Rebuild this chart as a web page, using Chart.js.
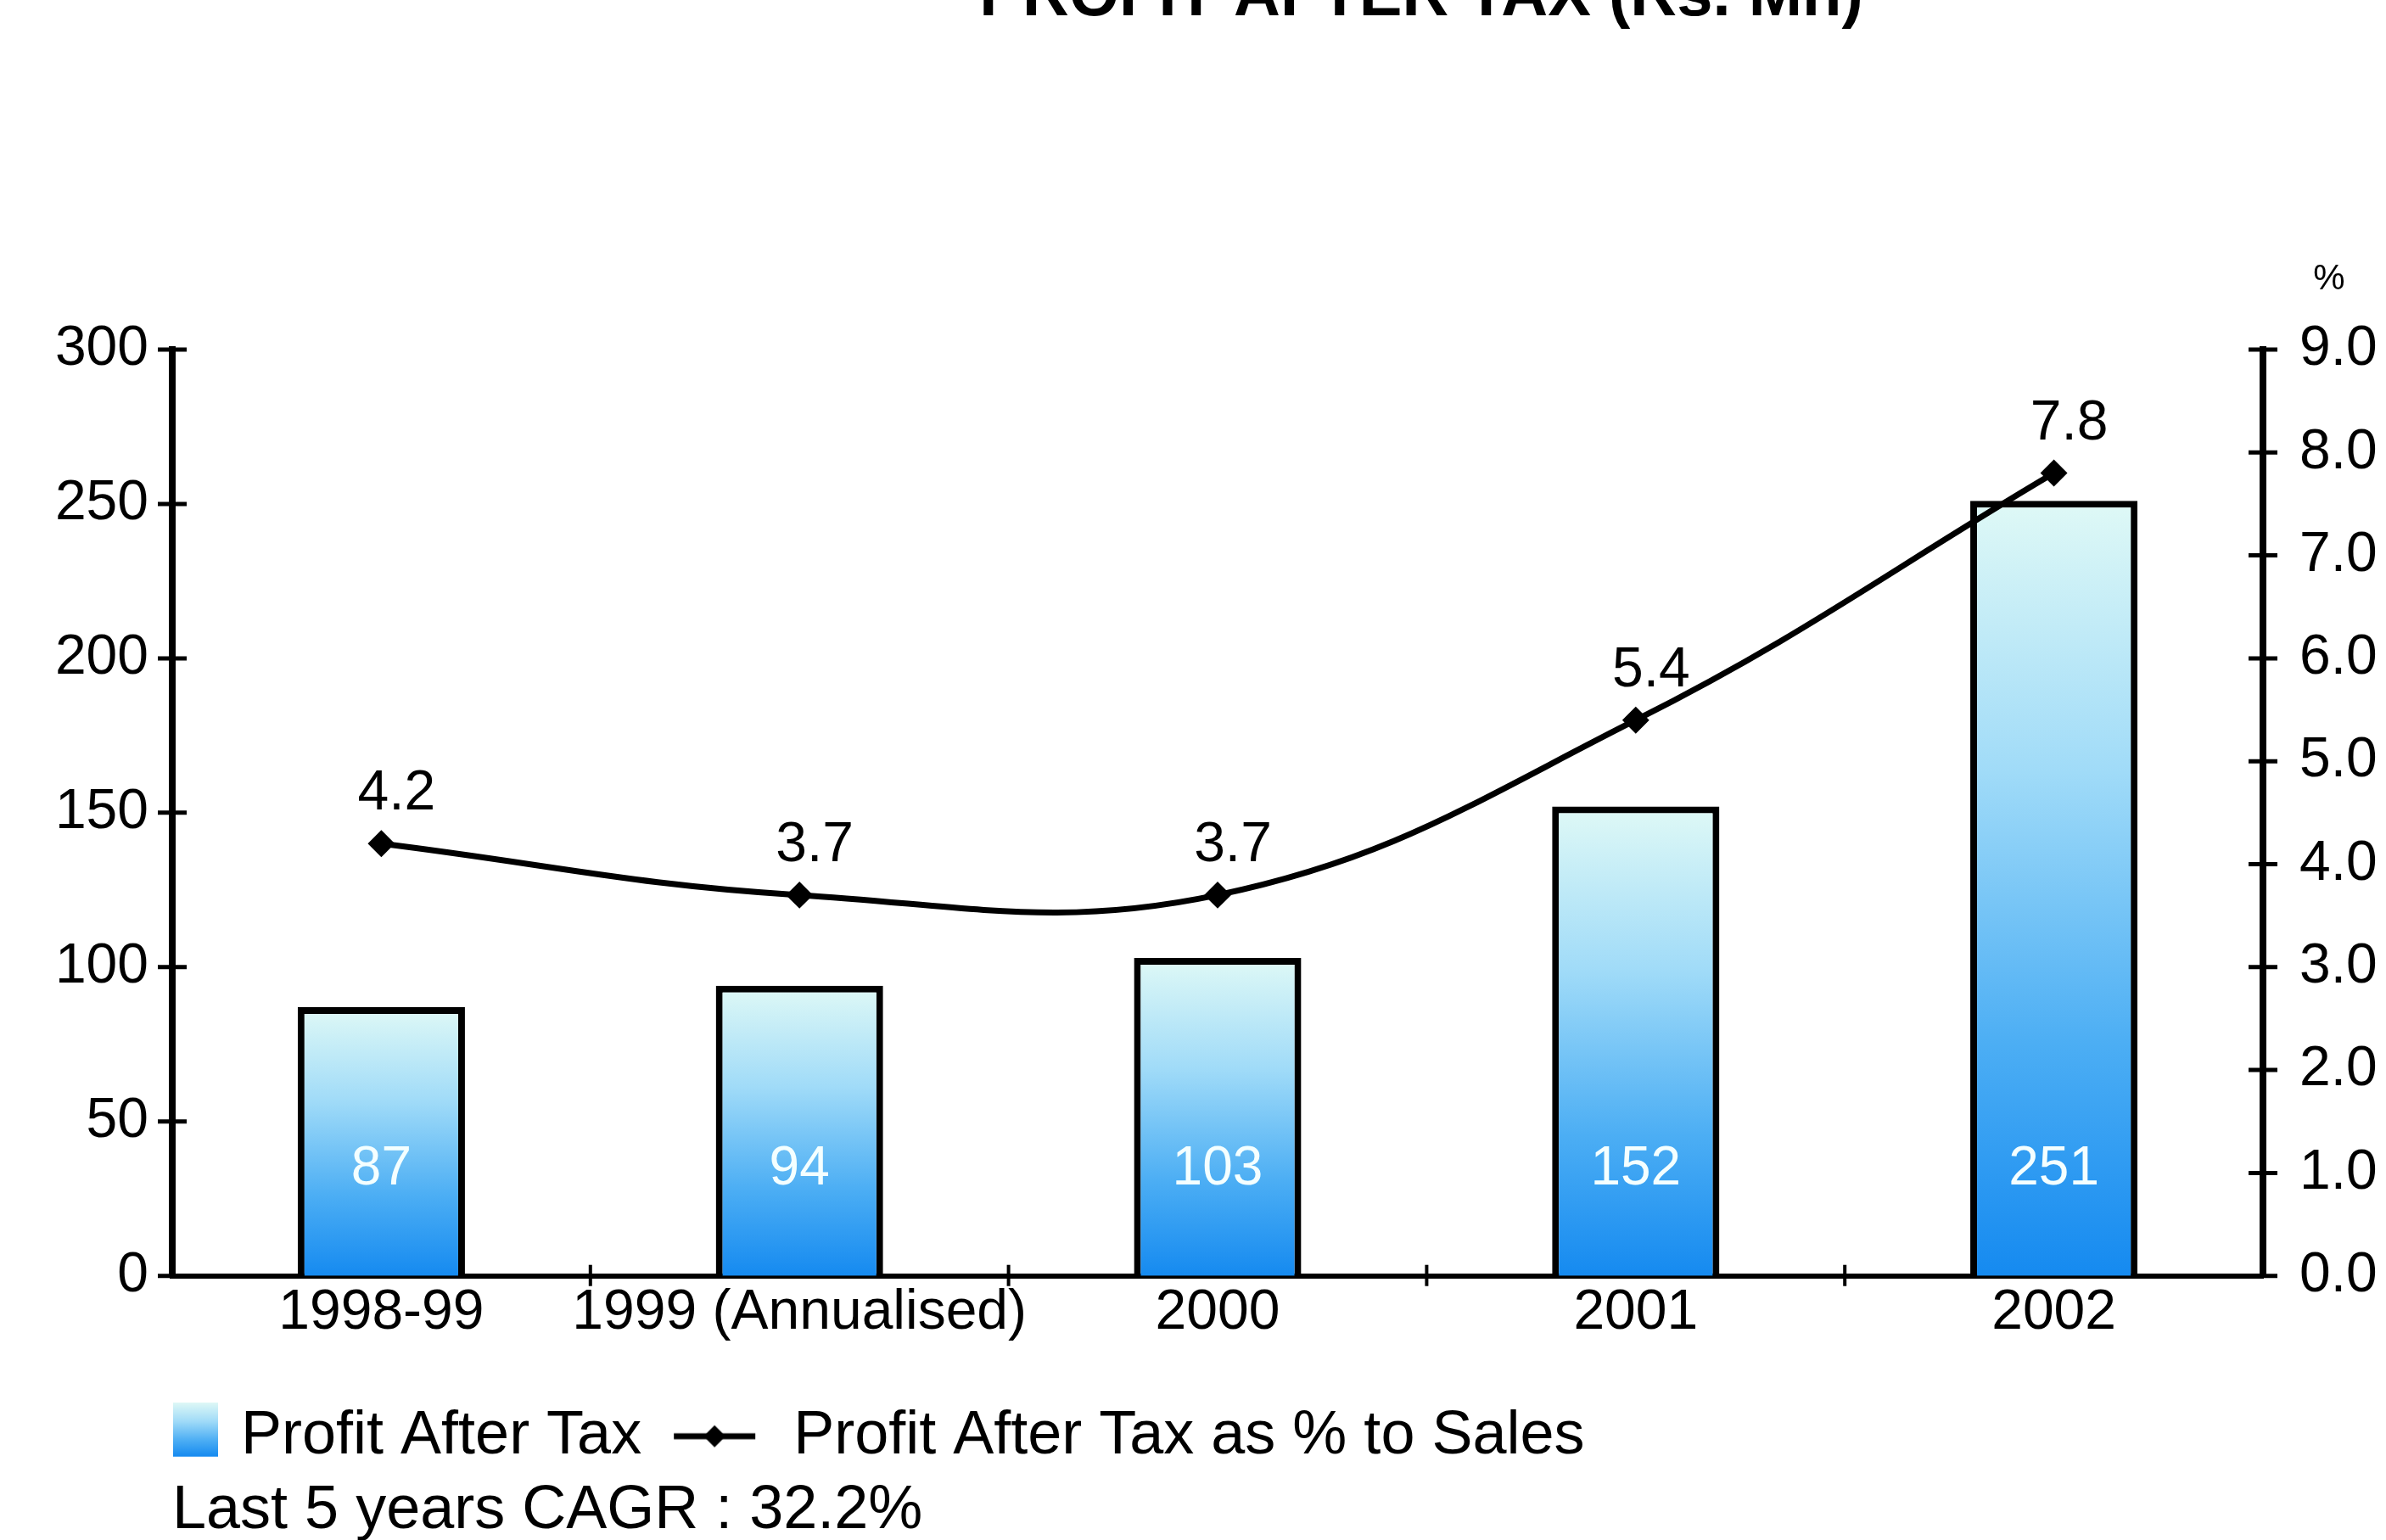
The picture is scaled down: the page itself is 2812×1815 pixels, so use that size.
<!DOCTYPE html>
<html><head><meta charset="utf-8">
<script src="https://cdn.jsdelivr.net/npm/chart.js@4.4.1/dist/chart.umd.min.js"></script>
<style>html,body{margin:0;padding:0;background:#fff;overflow:hidden}#wrap{width:2812px;height:1815px;position:relative}</style>
</head><body><div id="wrap"><canvas id="c" width="2812" height="1815"></canvas></div>
<script>
// ---------- data ----------
const titleText = 'PROFIT AFTER TAX (Rs. Mn)';
const categories = ['1998-99', '1999 (Annualised)', '2000', '2001', '2002'];
const profitAfterTax = [87, 94, 103, 152, 251];
const patPercentOfSales = [4.2, 3.7, 3.7, 5.4, 7.8];
const leftTickValues = [0, 50, 100, 150, 200, 250, 300];
const rightTickValues = [0, 1, 2, 3, 4, 5, 6, 7, 8, 9];
const seriesNames = ['Profit After Tax', 'Profit After Tax as % to Sales'];
const footnote = 'Last 5 years CAGR : 32.2%';
const rightAxisUnit = '%';

// ---------- fonts ----------
const REG = "'Liberation Sans', Arial, Helvetica, sans-serif";
Chart.defaults.font.family = REG;
Chart.defaults.color = '#000';

// ---------- styles ----------
function barGradient(ctx, top, bottom) {
  const g = ctx.createLinearGradient(0, top, 0, bottom);
  g.addColorStop(0, '#dff9f6');
  g.addColorStop(0.35, '#a0dbf8');
  g.addColorStop(0.7, '#4caef4');
  g.addColorStop(1, '#158af0');
  return g;
}
// legend images
const legendBar = document.createElement('canvas');
legendBar.width = 132; legendBar.height = 80;
(function () {
  const c = legendBar.getContext('2d');
  c.fillStyle = barGradient(c, 0, 64);
  c.fillRect(79, 0, 53, 64);
})();
const legendLine = document.createElement('canvas');
legendLine.width = 102; legendLine.height = 28;
(function () {
  const c = legendLine.getContext('2d');
  c.strokeStyle = '#000'; c.lineWidth = 7;
  c.beginPath(); c.moveTo(3, 14); c.lineTo(99, 14); c.stroke();
  c.fillStyle = '#000';
  c.beginPath(); c.moveTo(51, 1); c.lineTo(64, 14); c.lineTo(51, 27); c.lineTo(38, 14); c.closePath(); c.fill();
})();

// ---------- plugins ----------
const BAR_LABEL_VALUE = 34.5;
const LEGEND_LEFT = 105;
const decorPlugin = {
  id: 'decor',
  beforeDraw(chart) {
    if (chart.legend) chart.legend.left = LEGEND_LEFT;
  },
  afterDatasetsDraw(chart) {
    const ctx = chart.ctx;
    const barMeta = chart.getDatasetMeta(0);
    const lineMeta = chart.getDatasetMeta(1);
    const ys = chart.scales.y;
    ctx.save();
    ctx.textAlign = 'center';
    ctx.textBaseline = 'middle';
    ctx.font = '64px ' + REG;
    ctx.fillStyle = '#f4ffff';
    barMeta.data.forEach((el, i) => {
      ctx.fillText(String(profitAfterTax[i]), el.x, ys.getPixelForValue(BAR_LABEL_VALUE));
    });
    ctx.font = '66px ' + REG;
    ctx.fillStyle = '#000';
    lineMeta.data.forEach((el, i) => {
      ctx.fillText(patPercentOfSales[i].toFixed(1), el.x + 18, el.y - 58);
    });
    ctx.restore();
  },
  afterDraw(chart) {
    const ctx = chart.ctx;
    const ca = chart.chartArea;
    ctx.save();
    // crossing tick marks
    ctx.strokeStyle = '#000';
    ctx.lineWidth = 5;
    ['y', 'y1'].forEach(id => {
      const s = chart.scales[id];
      const ax = id === 'y' ? ca.left : ca.right;
      s.ticks.forEach((t, i) => {
        const p = s.getPixelForTick(i);
        ctx.beginPath(); ctx.moveTo(ax - 17, p); ctx.lineTo(ax + 17, p); ctx.stroke();
      });
    });
    const xs = chart.scales.x;
    ctx.lineWidth = 4;
    for (let k = 1; k < categories.length; k++) {
      const p = (xs.getPixelForTick(k - 1) + xs.getPixelForTick(k)) / 2;
      ctx.beginPath(); ctx.moveTo(p, ca.bottom - 13); ctx.lineTo(p, ca.bottom + 12); ctx.stroke();
    }
    // unit above right axis
    ctx.fillStyle = '#000';
    ctx.textAlign = 'center';
    ctx.textBaseline = 'middle';
    ctx.font = '42px ' + REG;
    ctx.fillText(rightAxisUnit, 2745, 329);
    // title (cut by the top edge, as in the reference)
    ctx.font = 'bold 76px ' + REG;
    ctx.textBaseline = 'alphabetic';
    ctx.fillText(titleText, 1675, 18);
    ctx.restore();
  }
};

// ---------- chart ----------
new Chart(document.getElementById('c'), {
  data: {
    labels: categories,
    datasets: [
      {
        type: 'bar',
        label: seriesNames[0],
        data: profitAfterTax,
        yAxisID: 'y',
        order: 2,
        barPercentage: 0.4,
        categoryPercentage: 1.0,
        borderColor: '#000',
        borderWidth: 8,
        backgroundColor: (c) => {
          const ch = c.chart;
          if (!ch.chartArea || c.type !== 'data') return '#6fc0f6';
          const ys = ch.scales.y;
          return barGradient(ch.ctx, ys.getPixelForValue(c.raw), ys.getPixelForValue(0));
        }
      },
      {
        type: 'line',
        label: seriesNames[1],
        data: patPercentOfSales,
        yAxisID: 'y1',
        order: 1,
        borderColor: '#000',
        borderWidth: 7,
        tension: 0.4,
        fill: false,
        pointStyle: 'rectRot',
        pointRadius: 11,
        pointBackgroundColor: '#000',
        pointBorderColor: '#000'
      }
    ]
  },
  options: {
    responsive: false,
    animation: false,
    devicePixelRatio: 1,
    layout: { padding: { left: 0, right: 0, top: 412, bottom: 0 } },
    scales: {
      x: {
        grid: { display: false, tickLength: 0 },
        border: { display: true, color: '#000', width: 6 },
        ticks: { color: '#000', font: { size: 66 }, padding: 4, maxRotation: 0, autoSkip: false },
        afterFit: (s) => { s.height = 124; }
      },
      y: {
        position: 'left',
        min: 0, max: 300,
        afterBuildTicks: (s) => { s.ticks = leftTickValues.map(v => ({ value: v })); },
        grid: { display: false, tickLength: 0 },
        border: { display: true, color: '#000', width: 8 },
        ticks: { color: '#000', font: { size: 66 }, padding: 28 },
        afterFit: (s) => { s.width = 203; }
      },
      y1: {
        position: 'right',
        min: 0, max: 9,
        afterBuildTicks: (s) => { s.ticks = rightTickValues.map(v => ({ value: v })); },
        grid: { display: false, tickLength: 0 },
        border: { display: true, color: '#000', width: 8 },
        ticks: { color: '#000', font: { size: 66 }, padding: 43, callback: (v) => Number(v).toFixed(1) },
        afterFit: (s) => { s.width = 145; }
      }
    },
    plugins: {
      tooltip: { enabled: false },
      title: { display: false },
      legend: {
        position: 'bottom',
        align: 'start',
        labels: {
          usePointStyle: true,
          pointStyleWidth: 114,
          padding: 29,
          color: '#000',
          font: { family: REG, size: 72 },
          generateLabels: () => [
            { text: seriesNames[0], pointStyle: legendBar, fillStyle: 'rgba(0,0,0,0)', strokeStyle: 'rgba(0,0,0,0)', lineWidth: 0, datasetIndex: 0, hidden: false, fontColor: '#000' },
            { text: seriesNames[1], pointStyle: legendLine, fillStyle: 'rgba(0,0,0,0)', strokeStyle: 'rgba(0,0,0,0)', lineWidth: 0, datasetIndex: 1, hidden: false, fontColor: '#000' }
          ]
        }
      },
      subtitle: {
        display: true,
        text: footnote,
        position: 'bottom',
        align: 'start',
        fullSize: false,
        color: '#000',
        font: { family: REG, size: 72, lineHeight: 0.74, weight: 'normal' },
        padding: { top: 16, bottom: 7 }
      }
    }
  },
  plugins: [decorPlugin]
});
</script>
</body></html>
